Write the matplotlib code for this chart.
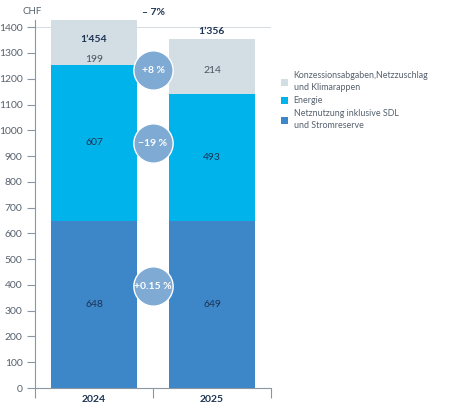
import matplotlib.pyplot as plt

plt.rcParams['font.family'] = ['Lato', 'DejaVu Sans']

years = ['2024', '2025']
netz = [648, 649]
energie = [607, 493]
abgaben = [199, 214]
totals = ['1’454', '1’356']
changes = ['+0.15 %', '−19 %', '+8 %']
total_change = '– 7%'
legend_labels = ['Konzessionsabgaben,Netzzuschlag\nund Klimarappen',
                 'Energie',
                 'Netznutzung inklusive SDL\nund Stromreserve']

c_netz = '#3d87c9'
c_energie = '#00b4eb'
c_abg = '#d3dde4'
navy = '#1d3352'
grey = '#56616d'

fig = plt.figure(figsize=(4.5, 4.17), dpi=100)
ax = fig.add_axes([0.078, 0.0695, 0.524, 0.882])

x = range(len(years))
w = 0.73
ax.axhline(1400, color='#d5dade', lw=0.7, zorder=0)
b1 = ax.bar(x, netz, w, color=c_netz, zorder=2)
b2 = ax.bar(x, energie, w, bottom=netz, color=c_energie, zorder=2)
base3 = [a + b for a, b in zip(netz, energie)]
b3 = ax.bar(x, abgaben, w, bottom=base3, color=c_abg, zorder=2)

# segment labels
for i in x:
    ax.text(i, netz[i] / 2, str(netz[i]), ha='center', va='center',
            fontsize=7.5, color=navy, zorder=4)
    ax.text(i, netz[i] + energie[i] / 2, str(energie[i]), ha='center',
            va='center', fontsize=7.5, color=navy, zorder=4)
top_y = [1275, 1233]
tot_y = [1354, 1382]
for i in x:
    ax.text(i, top_y[i], str(abgaben[i]), ha='center', va='center',
            fontsize=7.5, color='#4a5560', zorder=4)
    ax.text(i, tot_y[i], totals[i], ha='center', va='center',
            fontsize=7.5, color=navy, fontweight='bold', zorder=4)

# change bubbles between the bars
bubble_y = [395, 950, 1233]
for yy, lab in zip(bubble_y, changes):
    ax.scatter(0.5, yy, s=800, color='#7eaad4', edgecolor='white',
               linewidth=1, zorder=5, clip_on=False)
    ax.text(0.5, yy, lab, ha='center', va='center', fontsize=7.5,
            color='white', fontweight='bold', zorder=6)
ax.text(0.5, 1.02, total_change, transform=ax.get_xaxis_transform(),
        ha='center', va='center', fontsize=7.5, color=navy, fontweight='bold')
ax.text(-0.055, 1.025, 'CHF', transform=ax.transAxes, ha='left', va='center',
        fontsize=7, color=grey)

ax.set_xlim(-0.5, 1.5)
ax.set_ylim(0, 1427)
ax.set_yticks(range(0, 1401, 100))
ax.set_xticks(list(x))
ax.set_xticklabels(years, fontweight='bold', color=navy, fontsize=7.5)
ax.set_xticks([-0.5, 0.5, 1.5], minor=True)
ax.tick_params(axis='x', which='major', length=0, pad=5)
ax.tick_params(axis='x', which='minor', length=7, color='#8a96a3', width=0.8)
ax.tick_params(axis='y', length=6, color='#8a96a3', width=0.8,
               labelsize=7.5, labelcolor=grey, pad=3)
for s in ['top', 'right']:
    ax.spines[s].set_visible(False)
for s in ['left', 'bottom']:
    ax.spines[s].set_color('#8a96a3')
    ax.spines[s].set_linewidth(0.8)

leg = fig.legend([b3, b2, b1], legend_labels, loc='upper left',
                 bbox_to_anchor=(0.615, 0.84), frameon=False, fontsize=6.4,
                 labelcolor=grey, handlelength=0.8, handleheight=0.8,
                 handletextpad=0.6, labelspacing=0.45, borderpad=0)
for t in leg.get_texts():
    t.set_linespacing(1.45)

fig.savefig('out.png', dpi=100)
